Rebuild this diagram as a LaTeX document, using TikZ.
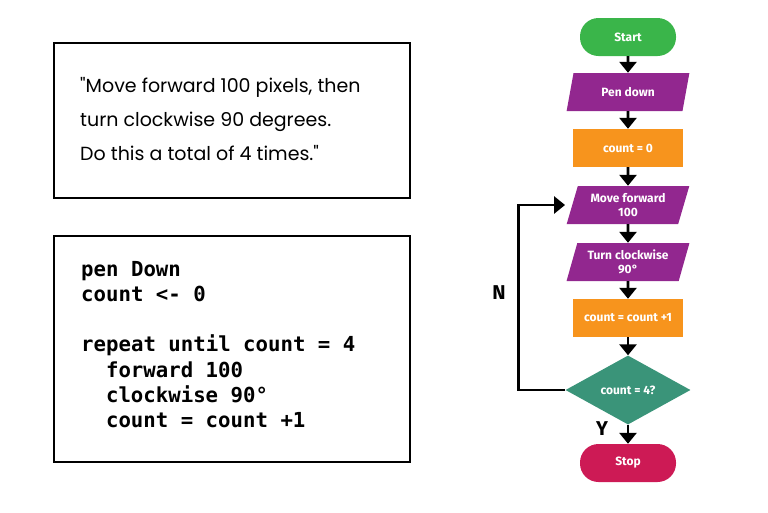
\documentclass[tikz,border=0pt]{standalone}
\usepackage{fontspec}
\setmainfont{Liberation Sans}
\newfontfamily\quotefont{Poppins}
\newfontfamily\codefont{DejaVu Sans Mono}
\newfontfamily\flowfont{Fira Sans}
\usetikzlibrary{shapes.geometric,arrows.meta}
\definecolor{flowgreen}{HTML}{3AB54A}
\definecolor{flowpurple}{HTML}{92278F}
\definecolor{floworange}{HTML}{F7941D}
\definecolor{flowteal}{HTML}{3A9479}
\definecolor{flowred}{HTML}{CD1A55}
\begin{document}
\begin{tikzpicture}[x=1pt,y=-1pt,
  textbox/.style={draw=black, line width=2pt},
  flowtext/.style={text=white, font=\flowfont\bfseries\fontsize{12}{13.5}\selectfont, align=center, inner sep=0pt},
  term/.style={flowtext, rectangle, rounded corners=18.5pt, minimum width=96pt, minimum height=38pt},
  io/.style={flowtext, trapezium, trapezium left angle=70, trapezium right angle=110, trapezium stretches=true, minimum width=123pt, minimum height=38pt, fill=flowpurple},
  proc/.style={flowtext, rectangle, minimum width=110pt, minimum height=38pt, fill=floworange},
  dec/.style={flowtext, diamond, minimum width=125pt, minimum height=69pt, fill=flowteal},
  arr/.style={line width=2.8pt, -{Triangle[width=17pt,length=11pt]}},
  yn/.style={font=\flowfont\bfseries\fontsize{20}{22}\selectfont}
]
\useasboundingbox (0,0) rectangle (768,512);
% left boxes
\node[textbox, minimum width=356pt, minimum height=155pt, anchor=north west] (qbox) at (53,42) {};
\node[anchor=north west, align=left, inner sep=0pt, font=\quotefont\fontsize{19}{34}\selectfont] (qtext) at (80,77)
  {"Move forward 100 pixels, then\\turn clockwise 90 degrees.\\Do this a total of 4 times."};
\node[textbox, minimum width=356pt, minimum height=226pt, anchor=north west] (cbox) at (53,235) {};
\node[anchor=north west, align=left, inner sep=0pt, font=\codefont\bfseries\fontsize{20.7}{25.2}\selectfont] (ctext) at (81,261)
  {pen Down\\count <- 0\\\mbox{}\\repeat until count = 4\\\hspace*{1.2em}forward 100\\\hspace*{1.2em}clockwise 90°\\\hspace*{1.2em}count = count +1};
% flowchart
\node[term, fill=flowgreen] (start) at (628,37) {Start};
\node[io] (pen) at (628,92) {Pen down};
\node[proc] (c0) at (628,148) {count = 0};
\node[io] (mf) at (628,205) {Move forward\\100};
\node[io] (tc) at (628,262) {Turn clockwise\\90°};
\node[proc] (inc) at (628,318) {count = count +1};
\node[dec] (dec) at (628,390) {count = 4?};
\node[term, fill=flowred] (stop) at (628,463) {Stop};
\draw[arr] (start.south) -- (pen.north);
\draw[arr] (pen.south) -- (c0.north);
\draw[arr] (c0.south) -- (mf.north);
\draw[arr] (mf.south) -- (tc.north);
\draw[arr] (tc.south) -- (inc.north);
\draw[arr] (inc.south) -- (dec.north);
\draw[arr] (dec.south) -- (stop.north);
\draw[arr] (dec.west) -- ++(-47,0) |- ([xshift=-7pt]mf.west);
\node[yn] (nlab) at (499,293) {N};
\node[yn] (ylab) at (602,429) {Y};
\end{tikzpicture}
\end{document}
